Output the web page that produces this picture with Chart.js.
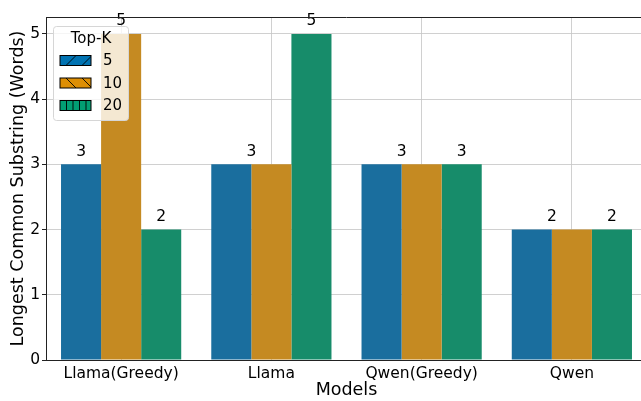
<!DOCTYPE html>
<html>
<head>
<meta charset="utf-8">
<script src="https://cdn.jsdelivr.net/npm/chart.js@4.4.1/dist/chart.umd.min.js"></script>
<style>
  html, body { margin: 0; padding: 0; background: #fff; }
  #wrap { width: 641px; height: 401px; overflow: hidden; position: relative; }
  #box { width: 648px; height: 401px; }
</style>
</head>
<body>
<div id="wrap"><div id="box"><canvas id="lcsChart"></canvas></div></div>
<script>
const categories = ['Llama(Greedy)', 'Llama', 'Qwen(Greedy)', 'Qwen'];
const topK5 = [3, 3, 3, 2];
const topK10 = [5, 3, 3, 2];
const topK20 = [2, 5, 3, 2];
const yTicks = [0, 1, 2, 3, 4, 5];
const seriesNames = ['5', '10', '20'];

const barColors = ['#1a6e9e', '#c58a22', '#178c6a'];
const legendColors = ['#0173b2', '#de8f05', '#029e73'];
const hatches = ['/', '\\', '|'];
const FONT = "'DejaVu Sans', sans-serif";

// value labels above bars; blue/orange equal -> one label between them
const barLabels = {
    id: 'barLabels',
    afterDatasetsDraw(chart) {
        const ctx = chart.ctx;
        const y = chart.scales.y;
        const m0 = chart.getDatasetMeta(0).data;
        const m1 = chart.getDatasetMeta(1).data;
        const m2 = chart.getDatasetMeta(2).data;
        ctx.save();
        ctx.fillStyle = '#000';
        ctx.font = '15.5px ' + FONT;
        ctx.textAlign = 'center';
        ctx.textBaseline = 'bottom';
        const put = (x, v) => ctx.fillText(String(v), x, y.getPixelForValue(v) - 5);
        categories.forEach((c, i) => {
            if (topK5[i] === topK10[i]) {
                put((m0[i].x + m1[i].x) / 2, topK5[i]);
            } else {
                put(m0[i].x, topK5[i]);
                put(m1[i].x, topK10[i]);
            }
            put(m2[i].x, topK20[i]);
        });
        ctx.restore();
    }
};

function hatchRect(ctx, x, y, w, h, kind) {
    ctx.save();
    ctx.beginPath();
    ctx.rect(x, y, w, h);
    ctx.clip();
    ctx.strokeStyle = '#000';
    ctx.lineWidth = 0.9;
    ctx.beginPath();
    if (kind === '|') {
        for (let xx = x + 6.5; xx < x + w; xx += 6.5) {
            ctx.moveTo(xx, y); ctx.lineTo(xx, y + h);
        }
    } else {
        const step = 16;
        for (let k = -h; k < w + h; k += step) {
            if (kind === '/') {
                ctx.moveTo(x + k, y + h); ctx.lineTo(x + k + h, y);
            } else {
                ctx.moveTo(x + k, y); ctx.lineTo(x + k + h, y + h);
            }
        }
    }
    ctx.stroke();
    ctx.restore();
}

const topKLegend = {
    id: 'topKLegend',
    afterDraw(chart) {
        const ctx = chart.ctx;
        const area = chart.chartArea;
        ctx.save();
        // top spine
        ctx.strokeStyle = '#222';
        ctx.lineWidth = 1;
        ctx.beginPath();
        ctx.moveTo(area.left, area.top + 0.5);
        ctx.lineTo(area.right, area.top + 0.5);
        ctx.stroke();

        const bx = 53.5, by = 26.5, bw = 75, bh = 94;
        ctx.beginPath();
        ctx.roundRect(bx, by, bw, bh, 3);
        ctx.fillStyle = 'rgba(255,255,255,0.8)';
        ctx.fill();
        ctx.strokeStyle = '#d6d6d6';
        ctx.stroke();

        ctx.fillStyle = '#000';
        ctx.font = '15px ' + FONT;
        ctx.textAlign = 'center';
        ctx.textBaseline = 'middle';
        ctx.fillText('Top-K', 91, 39);

        ctx.textAlign = 'left';
        seriesNames.forEach((name, i) => {
            const py = 55.5 + i * 22.5;
            ctx.fillStyle = legendColors[i];
            ctx.fillRect(60, py, 31, 10);
            hatchRect(ctx, 60, py, 31, 10, hatches[i]);
            ctx.strokeStyle = '#000';
            ctx.lineWidth = 1;
            ctx.strokeRect(60, py, 31, 10);
            ctx.fillStyle = '#000';
            ctx.fillText(name, 103, py + 6);
        });
        ctx.restore();
    }
};

const datasets = [topK5, topK10, topK20].map((vals, i) => ({
    label: seriesNames[i],
    data: vals,
    backgroundColor: barColors[i],
    borderWidth: 0,
    categoryPercentage: 0.8,
    barPercentage: 1.0
}));

const gridColor = 'rgba(200,200,200,0.85)';

new Chart(document.getElementById('lcsChart'), {
    type: 'bar',
    data: { labels: categories, datasets: datasets },
    plugins: [barLabels, topKLegend],
    options: {
        responsive: true,
        maintainAspectRatio: false,
        animation: false,
        layout: { padding: { top: 17, right: 1, left: 0, bottom: 0 } },
        plugins: {
            legend: { display: false },
            tooltip: { enabled: false }
        },
        scales: {
            x: {
                z: 1,
                grid: {
                    offset: false,
                    color: gridColor,
                    lineWidth: 1,
                    drawTicks: false,
                    borderDash: [1.5, 1.5]
                },
                border: { color: '#222', width: 1 },
                ticks: {
                    color: '#000',
                    font: { family: FONT, size: 15.5 },
                    padding: 5,
                    maxRotation: 0
                },
                title: {
                    display: true,
                    text: 'Models',
                    color: '#000',
                    font: { family: FONT, size: 17.5 },
                    padding: { top: -2, bottom: 0 }
                },
                afterFit(s) { s.height = 41; }
            },
            y: {
                z: 1,
                min: 0,
                max: 5.26,
                afterBuildTicks(s) { s.ticks = yTicks.map(v => ({ value: v })); },
                grid: {
                    color: gridColor,
                    lineWidth: 1,
                    borderDash: [1.5, 1.5],
                    tickLength: 4,
                    tickColor: '#222',
                    tickBorderDash: [],
                    tickWidth: 1
                },
                border: { color: '#222', width: 1 },
                ticks: {
                    color: '#000',
                    font: { family: FONT, size: 15.5 },
                    padding: 2
                },
                title: {
                    display: true,
                    text: 'Longest Common Substring (Words)',
                    color: '#000',
                    font: { family: FONT, size: 17.5 },
                    padding: { top: 8, bottom: 0 }
                },
                afterFit(s) { s.width = 46; }
            }
        }
    }
});
</script>
</body>
</html>
